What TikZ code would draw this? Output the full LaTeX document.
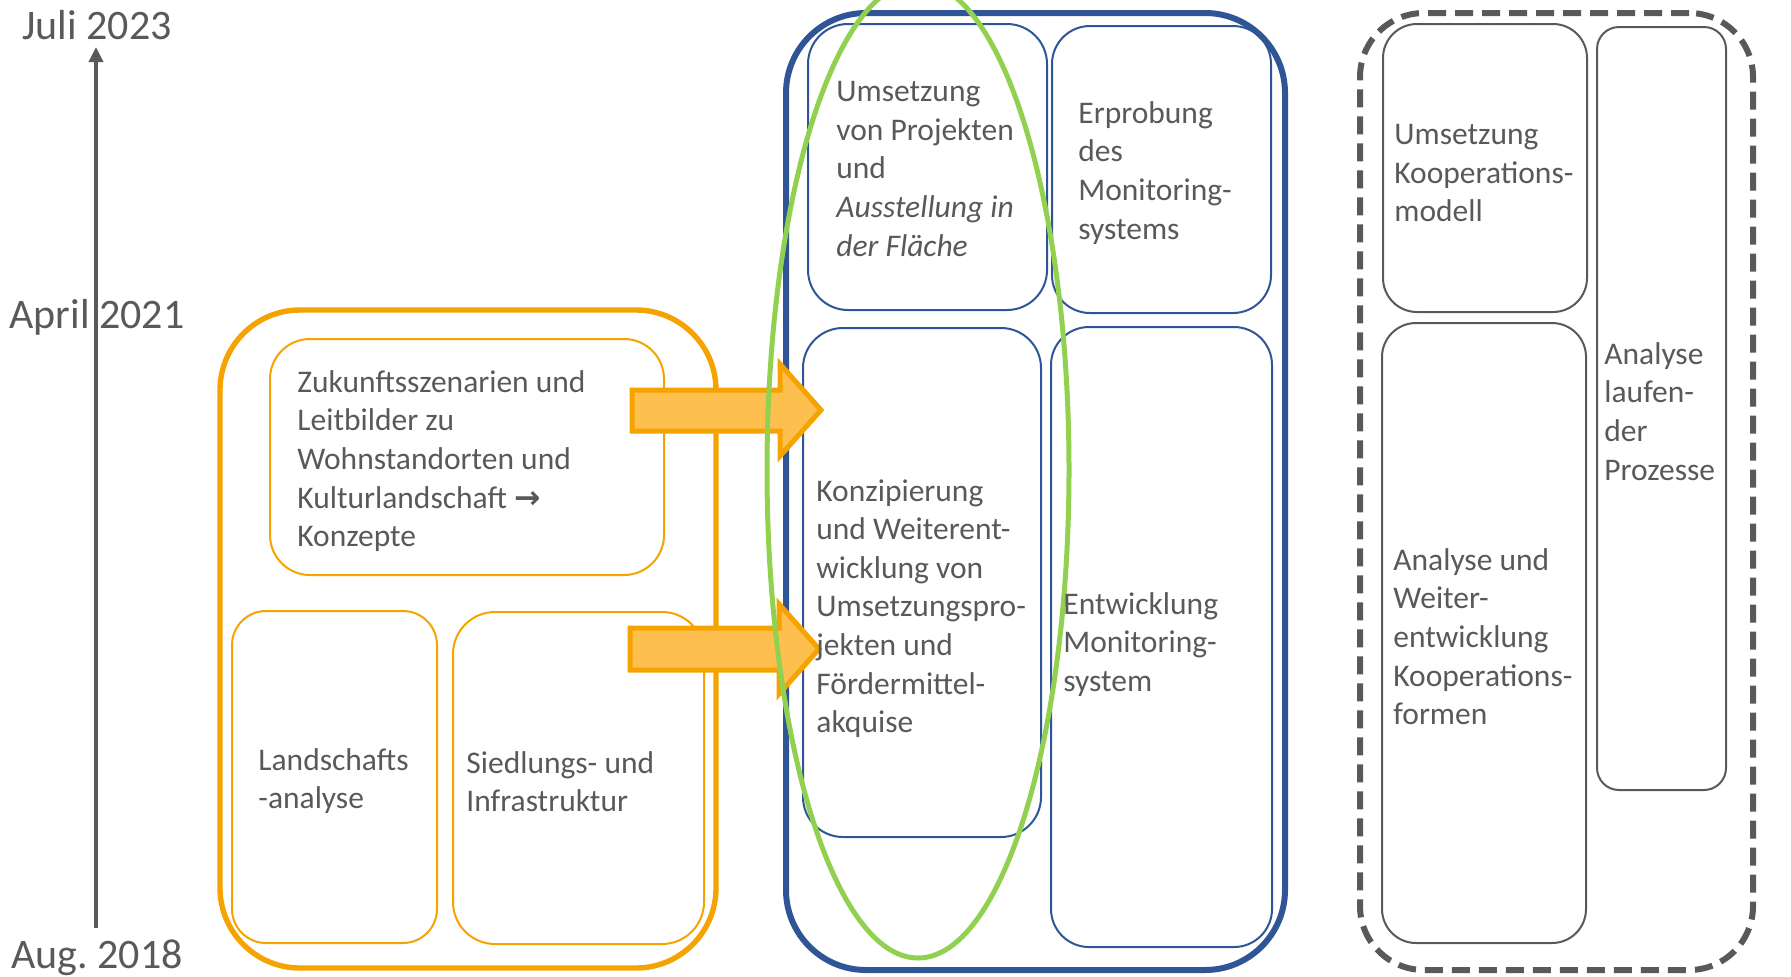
\documentclass[tikz,border=0pt]{standalone}
\usepackage{fontspec}
\setmainfont{Carlito}
\newfontfamily\arrowfont{DejaVu Sans}
\usepackage{tikz}
\usetikzlibrary{arrows.meta,fit,shapes.geometric}
\definecolor{korange}{HTML}{F5A300}
\definecolor{kfill}{HTML}{FDC04E}
\definecolor{kblue}{HTML}{2F5597}
\definecolor{kgreen}{HTML}{92D050}
\definecolor{kgray}{HTML}{595959}

\begin{document}
\begin{tikzpicture}[x=0.5pt, y=-0.5pt,
    orange frame/.style={draw=korange, line width=2.7pt, rounded corners=40pt, inner sep=0pt},
    blue frame/.style={draw=kblue, line width=3pt, rounded corners=40pt, inner sep=0pt},
    gray frame/.style={draw=kgray, line width=3pt, dash pattern=on 9pt off 4.5pt, rounded corners=32pt, inner sep=0pt},
    orange cell/.style={draw=korange, line width=1pt, rounded corners=20pt, inner sep=0pt},
    blue cell/.style={draw=kblue, line width=1pt, rounded corners=19pt, inner sep=0pt},
    gray cell/.style={draw=kgray, line width=1pt, rounded corners=17pt, inner sep=0pt},
    cell text/.style={anchor=north west, inner sep=0pt, align=left, text=kgray,
        font=\fontsize{15.75}{19.3}\selectfont, execute at begin node=\strut},
    date label/.style={anchor=base, inner sep=0pt, text=kgray, font=\fontsize{21}{25}\selectfont},
    timeline/.style={draw=kgray, line width=1.75pt, -{Triangle[length=7.5pt,width=7pt]}},
    block arrow/.style={draw=korange, fill=kfill, line width=2.5pt, line join=miter},
    focus ring/.style={draw=kgreen, line width=2.5pt, ellipse, inner sep=0pt}]

    \useasboundingbox (0,0) rectangle (1791,976);

    % timeline
    \node[date label] (d2023) at (97,39) {Juli 2023};
    \node[date label] (d2021) at (97,328) {April 2021};
    \node[date label] (d2018) at (97,968) {Aug.\ 2018};
    \coordinate (tstart) at (96,928);
    \coordinate (tend) at (96,47);
    \draw[timeline] (tstart) -- (tend);

    % right group
    \node[gray frame, fit={(1360,13) (1753,970)}] (grp3) {};
    \node[gray cell, fit={(1383,24) (1587,312)}] (koop) {};
    \node[gray cell, fit={(1382,323) (1586,943)}] (formen) {};
    \node[gray cell, rounded corners=11pt, fit={(1597,27) (1726,790)}] (laufend) {};

    % left group
    \node[orange frame, fit={(220,310) (716,968)}] (grp1) {};
    \node[orange cell, fit={(270,339) (664,575)}] (leitbild) {};
    \node[orange cell, rounded corners=17pt, fit={(232,611) (437,943)}] (landschaft) {};
    \node[orange cell, rounded corners=21pt, fit={(453,612) (704,944)}] (siedlung) {};

    % middle group
    \node[blue frame, fit={(786,13) (1285,970)}] (grp2) {};
    \node[blue cell, rounded corners=20pt, fit={(808,24) (1047,310)}] (projekte) {};
    \node[blue cell, fit={(1052,26) (1271,313)}] (erprobung) {};
    \node[blue cell, rounded corners=20pt, fit={(803,328) (1041,837)}] (konzept) {};
    \node[blue cell, fit={(1051,327) (1272,947)}] (monitor) {};

    % block arrows
    \draw[block arrow] (632,390) -- (780,390) -- (780,364) -- (821,410)
        -- (780,456) -- (780,431) -- (632,431) -- cycle;
    \draw[block arrow] (630,628) -- (779,628) -- (779,604) -- (819,649)
        -- (779,694) -- (779,670) -- (630,670) -- cycle;

    \node[focus ring, minimum width=151pt, minimum height=488pt] (focus) at (918,470) {};

    % texts
    \node[cell text] (tleitbild) at (297,370) {Zukunftsszenarien und\\Leitbilder zu\\Wohnstandorten und\\Kulturlandschaft {\arrowfont\bfseries →}\\Konzepte};
    \node[cell text] (tlandschaft) at (258,748) {Landschafts\\-analyse};
    \node[cell text] (tsiedlung) at (466,751) {Siedlungs- und\\Infrastruktur};
    \node[cell text] (tprojekte) at (836,81) {Umsetzung\\von Projekten\\und\\\textit{Ausstellung in}\\\textit{der Fläche}};
    \node[cell text] (terprobung) at (1078,101) {Erprobung\\des\\Monitoring-\\systems};
    \node[cell text] (tkonzept) at (816,479) {Konzipierung\\und Weiterent-\\wicklung von\\Umsetzungspro-\\jekten und\\Fördermittel-\\akquise};
    \node[cell text] (tmonitor) at (1063,592) {Entwicklung\\Monitoring-\\system};
    \node[cell text] (tkoop) at (1394,124) {Umsetzung\\Kooperations-\\modell};
    \node[cell text] (tformen) at (1393,548) {Analyse und\\Weiter-\\entwicklung\\Kooperations-\\formen};
    \node[cell text] (tlaufend) at (1604,342) {Analyse\\laufen-\\der\\Prozesse};
\end{tikzpicture}
\end{document}
